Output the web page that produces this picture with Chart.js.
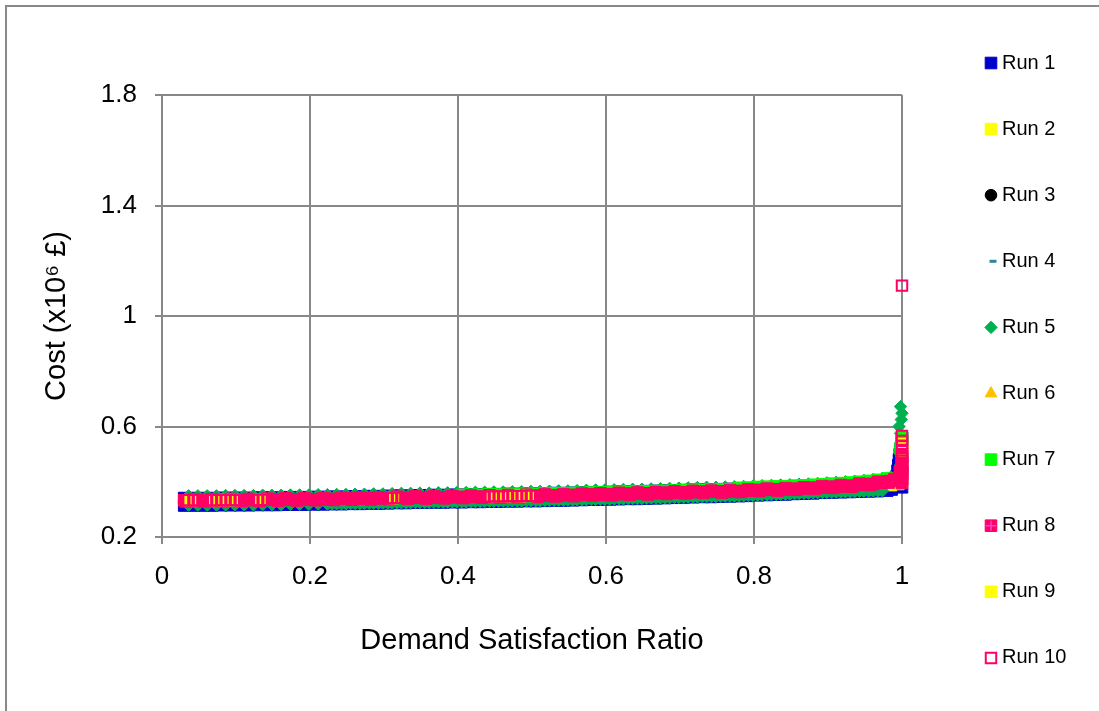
<!DOCTYPE html>
<html>
<head>
<meta charset="utf-8">
<script src="https://cdn.jsdelivr.net/npm/chart.js@4.4.1/dist/chart.umd.min.js"></script>
<style>
html,body{margin:0;padding:0;background:#fff;}
#wrap{width:1099px;height:711px;}
</style>
</head>
<body>
<div id="wrap"><canvas id="chart" width="1099" height="711"></canvas></div>
<script>
// Axis ticks
const ratioTicks = [0, 0.2, 0.4, 0.6, 0.8, 1];
const ratioTickLabels = ['0', '0.2', '0.4', '0.6', '0.8', '1'];
const costTicks = [0.2, 0.6, 1, 1.4, 1.8];
const costTickLabels = ['0.2', '0.6', '1', '1.4', '1.8'];

const runNames = ['Run 1', 'Run 2', 'Run 3', 'Run 4', 'Run 5', 'Run 6', 'Run 7', 'Run 8', 'Run 9', 'Run 10'];

// [demand satisfaction ratio, cost (x10^6 GBP)] for each run
const run1 = [
  [0.030,0.314],[0.0425,0.314],[0.055,0.314],[0.0675,0.314],[0.080,0.315],[0.0925,0.315],[0.105,0.315],
  [0.1175,0.315],[0.130,0.316],[0.1425,0.316],[0.155,0.316],[0.1675,0.317],[0.180,0.317],[0.1925,0.317],
  [0.205,0.318],[0.2175,0.318],[0.230,0.319],[0.2425,0.319],[0.255,0.320],[0.2675,0.320],[0.280,0.321],
  [0.2925,0.321],[0.305,0.322],[0.3175,0.323],[0.330,0.323],[0.3425,0.324],[0.355,0.324],[0.3675,0.325],
  [0.380,0.325],[0.3925,0.326],[0.405,0.326],[0.4175,0.327],[0.430,0.327],[0.4425,0.328],[0.455,0.328],
  [0.4675,0.329],[0.480,0.329],[0.4925,0.330],[0.505,0.330],[0.5175,0.331],[0.530,0.332],[0.5425,0.332],
  [0.555,0.333],[0.5675,0.334],[0.580,0.335],[0.5925,0.335],[0.605,0.336],[0.6175,0.337],[0.630,0.338],
  [0.6425,0.338],[0.655,0.339],[0.6675,0.340],[0.680,0.341],[0.6925,0.342],[0.705,0.343],[0.7175,0.344],
  [0.730,0.345],[0.7425,0.345],[0.755,0.346],[0.7675,0.347],[0.780,0.348],[0.7925,0.349],[0.805,0.351],
  [0.8175,0.352],[0.830,0.353],[0.8425,0.354],[0.855,0.356],[0.8675,0.357],[0.880,0.358],[0.8925,0.360],
  [0.905,0.361],[0.9175,0.362],[0.930,0.363],[0.9425,0.364],[0.955,0.365],[0.9675,0.366],[0.980,0.368],
  [0.030,0.341],[0.0425,0.341],[0.055,0.341],[0.0675,0.341],[0.080,0.342],[0.0925,0.342],[0.105,0.342],
  [0.1175,0.342],[0.130,0.343],[0.1425,0.343],[0.155,0.343],[0.1675,0.344],[0.180,0.344],[0.1925,0.344],
  [0.205,0.345],[0.2175,0.345],[0.230,0.346],[0.2425,0.346],[0.255,0.347],[0.2675,0.347],[0.280,0.348],
  [0.2925,0.348],[0.305,0.349],[0.3175,0.350],[0.330,0.350],[0.3425,0.351],[0.355,0.351],[0.3675,0.352],
  [0.380,0.352],[0.3925,0.353],[0.405,0.353],[0.4175,0.354],[0.430,0.354],[0.4425,0.355],[0.455,0.355],
  [0.4675,0.356],[0.480,0.356],[0.4925,0.357],[0.505,0.357],[0.5175,0.358],[0.530,0.359],[0.5425,0.359],
  [0.555,0.360],[0.5675,0.361],[0.580,0.362],[0.5925,0.362],[0.605,0.363],[0.6175,0.364],[0.630,0.365],
  [0.6425,0.365],[0.655,0.366],[0.6675,0.367],[0.680,0.368],[0.6925,0.369],[0.705,0.370],[0.7175,0.371],
  [0.730,0.372],[0.7425,0.372],[0.755,0.373],[0.7675,0.374],[0.780,0.375],[0.7925,0.376],[0.805,0.378],
  [0.8175,0.379],[0.830,0.380],[0.8425,0.381],[0.855,0.383],[0.8675,0.384],[0.880,0.386],[0.8925,0.388],
  [0.905,0.390],[0.9175,0.392],[0.930,0.394],[0.9425,0.397],[0.955,0.400],[0.9675,0.404],[0.980,0.409],
  [0.986,0.372],[0.990,0.385],[0.992,0.400],[0.993,0.420],[0.994,0.440],[0.995,0.460],[0.996,0.480],
  [0.997,0.500],[0.998,0.520],[1.000,0.540],[1.000,0.558],[1.000,0.380],[1.000,0.430],[1.000,0.490]
];
const run2 = [
  [0.5925,0.344],[0.6175,0.346],[0.6425,0.347],[0.6675,0.349],[0.6925,0.351],[0.7175,0.353],[0.7425,0.354],
  [0.7675,0.356],[0.7925,0.358],[0.8175,0.361],[0.8425,0.363],[0.8675,0.366],[0.8925,0.370],[0.9175,0.374],
  [0.9425,0.378],[0.9675,0.384],[0.985,0.388],[0.995,0.392],[1.000,0.400]
];
const run3 = [
  [0.10,0.334],[0.15,0.335],[0.20,0.337],[0.25,0.339],[0.30,0.341],[0.35,0.343],[0.40,0.345],[0.45,0.347],
  [0.50,0.349],[0.55,0.352],[0.60,0.355],[0.65,0.358],[0.70,0.361],[0.75,0.365],[0.80,0.369],[0.85,0.374],
  [0.90,0.381],[0.95,0.391],[1.00,0.450]
];
const run4 = [
  [0.12,0.336],[0.22,0.339],[0.32,0.344],[0.42,0.348],[0.52,0.352],[0.62,0.358],[0.72,0.365],[0.82,0.373],
  [0.92,0.386],[1.00,0.440]
];
const run5 = [
  [0.036,0.349],[0.0485,0.349],[0.061,0.349],[0.0735,0.349],[0.086,0.350],[0.0985,0.350],[0.111,0.350],
  [0.1235,0.350],[0.136,0.351],[0.1485,0.351],[0.161,0.351],[0.1735,0.352],[0.186,0.352],[0.1985,0.352],
  [0.211,0.353],[0.2235,0.353],[0.236,0.354],[0.2485,0.354],[0.261,0.355],[0.2735,0.355],[0.286,0.356],
  [0.2985,0.356],[0.311,0.357],[0.3235,0.358],[0.336,0.358],[0.3485,0.359],[0.361,0.359],[0.3735,0.360],
  [0.386,0.360],[0.3985,0.361],[0.411,0.361],[0.4235,0.362],[0.436,0.362],[0.4485,0.363],[0.461,0.363],
  [0.4735,0.364],[0.486,0.364],[0.4985,0.365],[0.511,0.365],[0.5235,0.366],[0.536,0.367],[0.5485,0.367],
  [0.561,0.368],[0.5735,0.369],[0.586,0.370],[0.5985,0.370],[0.611,0.371],[0.6235,0.372],[0.636,0.373],
  [0.6485,0.373],[0.661,0.374],[0.6735,0.375],[0.686,0.376],[0.6985,0.377],[0.711,0.378],[0.7235,0.379],
  [0.736,0.380],[0.7485,0.380],[0.761,0.381],[0.7735,0.382],[0.786,0.383],[0.7985,0.384],[0.811,0.386],
  [0.8235,0.387],[0.836,0.388],[0.8485,0.389],[0.861,0.391],[0.8735,0.392],[0.886,0.394],[0.8985,0.396],
  [0.911,0.398],[0.9235,0.400],[0.936,0.402],[0.9485,0.405],[0.961,0.408],[0.9735,0.412],[0.985,0.417],
  [0.036,0.315],[0.0485,0.315],[0.061,0.315],[0.0735,0.315],[0.086,0.316],[0.0985,0.316],[0.111,0.316],
  [0.1235,0.316],[0.136,0.317],[0.1485,0.317],[0.161,0.317],[0.1735,0.318],[0.186,0.318],[0.1985,0.318],
  [0.211,0.319],[0.2235,0.319],[0.236,0.320],[0.2485,0.320],[0.261,0.321],[0.2735,0.321],[0.286,0.322],
  [0.2985,0.322],[0.311,0.323],[0.3235,0.324],[0.336,0.324],[0.3485,0.325],[0.361,0.325],[0.3735,0.326],
  [0.386,0.326],[0.3985,0.327],[0.411,0.327],[0.4235,0.328],[0.436,0.328],[0.4485,0.329],[0.461,0.329],
  [0.4735,0.330],[0.486,0.330],[0.4985,0.331],[0.511,0.331],[0.5235,0.332],[0.536,0.333],[0.5485,0.333],
  [0.561,0.334],[0.5735,0.335],[0.586,0.336],[0.5985,0.336],[0.611,0.337],[0.6235,0.338],[0.636,0.339],
  [0.6485,0.339],[0.661,0.340],[0.6735,0.341],[0.686,0.342],[0.6985,0.343],[0.711,0.344],[0.7235,0.345],
  [0.736,0.346],[0.7485,0.346],[0.761,0.347],[0.7735,0.348],[0.786,0.349],[0.7985,0.350],[0.811,0.352],
  [0.8235,0.353],[0.836,0.354],[0.8485,0.355],[0.861,0.357],[0.8735,0.358],[0.886,0.360],[0.8985,0.361],
  [0.911,0.362],[0.9235,0.363],[0.936,0.364],[0.9485,0.365],[0.961,0.366],[0.9735,0.367],
  [0.230,0.320],[0.2425,0.320],[0.255,0.321],[0.2675,0.321],[0.280,0.322],[0.2925,0.322],[0.305,0.323],
  [0.3175,0.324],[0.330,0.324],[0.3425,0.325],[0.355,0.325],[0.3675,0.326],[0.380,0.326],[0.3925,0.327],
  [0.405,0.327],[0.4175,0.328],[0.430,0.328],[0.4425,0.329],[0.455,0.329],[0.4675,0.330],[0.480,0.330],
  [0.4925,0.331],[0.505,0.331],[0.5175,0.332],[0.530,0.333],[0.5425,0.333],[0.555,0.334],[0.5675,0.335],
  [0.580,0.336],[0.5925,0.336],[0.605,0.337],[0.6175,0.338],[0.630,0.339],[0.6425,0.339],[0.655,0.340],
  [0.6675,0.341],[0.680,0.342],[0.6925,0.343],[0.705,0.344],[0.7175,0.345],[0.730,0.346],[0.7425,0.346],
  [0.755,0.347],[0.7675,0.348],[0.780,0.349],[0.7925,0.350],[0.805,0.352],[0.8175,0.353],[0.830,0.354],
  [0.8425,0.355],[0.855,0.357],[0.8675,0.358],[0.880,0.360],[0.8925,0.361],[0.905,0.362],[0.9175,0.363],
  [0.930,0.364],[0.9425,0.365],[0.955,0.366],[0.9675,0.367],
  [0.995,0.400],[0.997,0.430],[0.998,0.460],[1.000,0.490],[1.000,0.520],[1.000,0.550],[0.998,0.575],
  [0.996,0.600],[0.999,0.625],[1.000,0.648],[0.998,0.672]
];
const run6 = [
  [0.15,0.329],[0.30,0.335],[0.45,0.341],[0.60,0.349],[0.75,0.359],[0.90,0.375],[1.00,0.430],[1.00,0.470],
  [1.00,0.490]
];
const run7 = [
  [0.405,0.352],[0.4175,0.353],[0.430,0.353],[0.4425,0.354],[0.455,0.354],[0.4675,0.355],[0.480,0.355],
  [0.4925,0.356],[0.505,0.356],[0.5175,0.357],[0.530,0.358],[0.5425,0.358],[0.555,0.359],[0.5675,0.360],
  [0.580,0.361],[0.5925,0.361],[0.605,0.362],[0.6175,0.363],[0.630,0.364],[0.6425,0.364],[0.655,0.365],
  [0.6675,0.366],[0.680,0.367],[0.6925,0.368],[0.705,0.369],[0.7175,0.370],[0.730,0.371],[0.7425,0.371],
  [0.755,0.372],[0.7675,0.373],[0.780,0.378],[0.7925,0.379],[0.805,0.381],[0.8175,0.382],[0.830,0.383],
  [0.8425,0.384],[0.855,0.386],[0.8675,0.387],[0.880,0.389],[0.8925,0.391],[0.905,0.393],[0.9175,0.395],
  [0.930,0.397],[0.9425,0.400],[0.955,0.403],[0.9675,0.407],[0.980,0.412],
  [0.998,0.520],[1.000,0.545],[1.000,0.560]
];
const run8 = [
  [0.032,0.329],[0.057,0.329],[0.082,0.330],[0.107,0.330],[0.132,0.331],[0.157,0.331],[0.182,0.332],
  [0.207,0.333],[0.232,0.334],[0.257,0.335],[0.282,0.336],[0.307,0.337],[0.332,0.338],[0.357,0.339],
  [0.382,0.340],[0.407,0.341],[0.432,0.342],[0.457,0.343],[0.482,0.344],[0.507,0.345],[0.532,0.347],
  [0.557,0.348],[0.582,0.350],[0.607,0.351],[0.632,0.353],[0.657,0.354],[0.682,0.356],[0.707,0.358],
  [0.732,0.360],[0.757,0.361],[0.782,0.363],[0.807,0.366],[0.832,0.368],[0.857,0.371],[0.882,0.374],
  [0.907,0.378],[0.932,0.382],[0.957,0.388],[0.982,0.397],
  [0.0425,0.337],[0.0675,0.337],[0.0925,0.338],[0.1175,0.338],[0.1425,0.339],[0.1675,0.340],[0.1925,0.340],
  [0.2175,0.341],[0.2425,0.342],[0.2675,0.343],[0.2925,0.344],[0.3175,0.346],[0.3425,0.347],[0.3675,0.348],
  [0.3925,0.349],[0.4175,0.350],[0.4425,0.351],[0.4675,0.352],[0.4925,0.353],[0.5175,0.354],[0.5425,0.355],
  [0.5675,0.357],[0.5925,0.358],[0.6175,0.360],[0.6425,0.361],[0.6675,0.363],[0.6925,0.365],[0.7175,0.367],
  [0.7425,0.368],[0.7675,0.370],[0.7925,0.372],[0.8175,0.375],[0.8425,0.377],[0.8675,0.380],[0.8925,0.384],
  [0.9175,0.388],[0.9425,0.393],[0.9675,0.400],[0.990,0.410],
  [1.000,0.395],[1.000,0.410],[1.000,0.425],[1.000,0.440],[1.000,0.455],[1.000,0.470],[1.000,0.485],
  [1.000,0.500],[0.997,0.405],[0.997,0.435]
];
const run9 = [
  [0.038,0.333],[0.072,0.333],[0.085,0.334],[0.098,0.334],[0.132,0.335],[0.312,0.341],[0.447,0.347],
  [0.463,0.347],[0.484,0.348],[0.495,0.349],[1.000,0.510],[1.000,0.535]
];
const run10 = [
  [0.030,0.333],[0.0425,0.333],[0.055,0.333],[0.0675,0.333],[0.080,0.334],[0.0925,0.334],[0.105,0.334],
  [0.1175,0.334],[0.130,0.335],[0.1425,0.335],[0.155,0.335],[0.1675,0.336],[0.180,0.336],[0.1925,0.336],
  [0.205,0.337],[0.2175,0.337],[0.230,0.338],[0.2425,0.338],[0.255,0.339],[0.2675,0.339],[0.280,0.340],
  [0.2925,0.340],[0.305,0.341],[0.3175,0.342],[0.330,0.342],[0.3425,0.343],[0.355,0.343],[0.3675,0.344],
  [0.380,0.344],[0.3925,0.345],[0.405,0.345],[0.4175,0.346],[0.430,0.346],[0.4425,0.347],[0.455,0.347],
  [0.4675,0.348],[0.480,0.348],[0.4925,0.349],[0.505,0.349],[0.5175,0.350],[0.530,0.351],[0.5425,0.351],
  [0.555,0.352],[0.5675,0.353],[0.580,0.354],[0.5925,0.354],[0.605,0.355],[0.6175,0.356],[0.630,0.357],
  [0.6425,0.357],[0.655,0.358],[0.6675,0.359],[0.680,0.360],[0.6925,0.361],[0.705,0.362],[0.7175,0.363],
  [0.730,0.364],[0.7425,0.364],[0.755,0.365],[0.7675,0.366],[0.780,0.367],[0.7925,0.368],[0.805,0.370],
  [0.8175,0.371],[0.830,0.372],[0.8425,0.373],[0.855,0.375],[0.8675,0.376],[0.880,0.378],[0.8925,0.380],
  [0.905,0.382],[0.9175,0.384],[0.930,0.386],[0.9425,0.389],[0.955,0.392],[0.9675,0.396],[0.980,0.401],
  [0.990,0.406],
  [0.036,0.333],[0.0485,0.333],[0.061,0.333],[0.0735,0.333],[0.086,0.334],[0.0985,0.334],[0.111,0.334],
  [0.1235,0.334],[0.136,0.335],[0.1485,0.335],[0.161,0.335],[0.1735,0.336],[0.186,0.336],[0.1985,0.336],
  [0.211,0.337],[0.2235,0.337],[0.236,0.338],[0.2485,0.338],[0.261,0.339],[0.2735,0.339],[0.286,0.340],
  [0.2985,0.340],[0.311,0.341],[0.3235,0.342],[0.336,0.342],[0.3485,0.343],[0.361,0.343],[0.3735,0.344],
  [0.386,0.344],[0.3985,0.345],[0.411,0.345],[0.4235,0.346],[0.436,0.346],[0.4485,0.347],[0.461,0.347],
  [0.4735,0.348],[0.486,0.348],[0.4985,0.349],[0.511,0.349],[0.5235,0.350],[0.536,0.351],[0.5485,0.351],
  [0.561,0.352],[0.5735,0.353],[0.586,0.354],[0.5985,0.354],[0.611,0.355],[0.6235,0.356],[0.636,0.357],
  [0.6485,0.357],[0.661,0.358],[0.6735,0.359],[0.686,0.360],[0.6985,0.361],[0.711,0.362],[0.7235,0.363],
  [0.736,0.364],[0.7485,0.364],[0.761,0.365],[0.7735,0.366],[0.786,0.367],[0.7985,0.368],[0.811,0.370],
  [0.8235,0.371],[0.836,0.372],[0.8485,0.373],[0.861,0.375],[0.8735,0.376],[0.886,0.378],[0.8985,0.380],
  [0.911,0.382],[0.9235,0.384],[0.936,0.386],[0.9485,0.389],[0.961,0.392],[0.9735,0.396],[0.985,0.403],
  [1.000,0.410],[1.000,0.425],[1.000,0.440],[1.000,0.455],[1.000,0.470],[1.000,0.485],[1.000,0.500],
  [1.000,0.515],[1.000,0.530],[1.000,0.548],[1.000,0.566],[1.000,1.110]
];
const runs = [run1, run2, run3, run4, run5, run6, run7, run8, run9, run10];

// Marker appearance per run
const markers = [
  {pointStyle: 'rect',     pointRadius: 8.2, pointBackgroundColor: '#0000CC', pointBorderColor: '#0000CC', pointBorderWidth: 1},
  {pointStyle: 'rect',     pointRadius: 8.2, pointBackgroundColor: '#FFFF00', pointBorderColor: '#FFFF00', pointBorderWidth: 1},
  {pointStyle: 'circle',   pointRadius: 5.8, pointBackgroundColor: '#000000', pointBorderColor: '#000000', pointBorderWidth: 1},
  {pointStyle: 'line',     pointRadius: 3.5, pointBackgroundColor: '#31849B', pointBorderColor: '#31849B', pointBorderWidth: 3},
  {pointStyle: 'rectRot',  pointRadius: 6.2, pointBackgroundColor: '#00B050', pointBorderColor: '#00B050', pointBorderWidth: 1},
  {pointStyle: 'triangle', pointRadius: 6.8, pointBackgroundColor: '#FFC000', pointBorderColor: '#FFC000', pointBorderWidth: 1},
  {pointStyle: 'rect',     pointRadius: 8.2, pointBackgroundColor: '#00FF00', pointBorderColor: '#00FF00', pointBorderWidth: 1},
  {pointStyle: 'rect',     pointRadius: 8.2, pointBackgroundColor: '#FF0066', pointBorderColor: '#FF0066', pointBorderWidth: 1},
  {pointStyle: 'rect',     pointRadius: 8.2, pointBackgroundColor: '#FFFF00', pointBorderColor: '#FFFF00', pointBorderWidth: 1},
  {pointStyle: 'rect',     pointRadius: 7.4, pointBackgroundColor: 'rgba(255,255,255,0)', pointBorderColor: '#FF0066', pointBorderWidth: 2}
];

const FONT = "'Liberation Sans', Arial, Helvetica, sans-serif";
const GRID = '#888888';
Chart.defaults.font.family = FONT;
Chart.defaults.color = '#000';

// Later runs are painted over earlier ones
const datasets = runs.map((pts, i) => Object.assign({
  label: runNames[i],
  data: pts,
  showLine: false,
  clip: false,
  order: runs.length - 1 - i,
  pointHoverRadius: markers[i].pointRadius
}, markers[i]));

// White page with the grey chart frame
const framePlugin = {
  id: 'frame',
  beforeDraw(chart) {
    const ctx = chart.ctx;
    ctx.save();
    ctx.fillStyle = '#fff';
    ctx.fillRect(0, 0, chart.width, chart.height);
    ctx.strokeStyle = '#898989';
    ctx.lineWidth = 2;
    ctx.strokeRect(6, 6, chart.width + 100, chart.height + 100);
    ctx.restore();
  }
};

// Vertical legend down the right-hand side
const sideLegend = {
  id: 'sideLegend',
  afterDraw(chart) {
    const ctx = chart.ctx;
    const top = 63, step = 66.1, markX = 991, textX = 1002;
    chart.data.datasets.forEach((ds, i) => {
      const y = top + i * step;
      const m = markers[i];
      const mx = m.pointStyle === 'line' ? markX + 2 : markX;
      ctx.save();
      ctx.fillStyle = m.pointBackgroundColor;
      ctx.strokeStyle = m.pointBorderColor;
      ctx.lineWidth = m.pointBorderWidth;
      Chart.helpers.drawPoint(ctx, {
        pointStyle: m.pointStyle, radius: m.pointRadius, borderWidth: m.pointBorderWidth, rotation: 0
      }, mx, y);
      if (i === 7) {
        // Run 8 marker carries a light cross
        ctx.beginPath();
        ctx.strokeStyle = '#FF40D0';
        ctx.lineWidth = 1.5;
        ctx.moveTo(mx - 5, y); ctx.lineTo(mx + 5, y);
        ctx.moveTo(mx, y - 5); ctx.lineTo(mx, y + 5);
        ctx.stroke();
      }
      ctx.fillStyle = '#000';
      ctx.font = '20px ' + FONT;
      ctx.textAlign = 'left';
      ctx.textBaseline = 'middle';
      ctx.fillText(ds.label, textX, y);
      ctx.restore();
    });
  }
};

new Chart(document.getElementById('chart'), {
  type: 'scatter',
  data: {datasets},
  plugins: [framePlugin, sideLegend],
  options: {
    responsive: false,
    animation: false,
    events: [],
    layout: {padding: {left: 6, top: 95, right: 197, bottom: 53}},
    plugins: {legend: {display: false}, tooltip: {enabled: false}},
    scales: {
      x: {
        type: 'linear',
        min: 0, max: 1,
        afterBuildTicks: s => { s.ticks = ratioTicks.map(v => ({value: v})); },
        afterFit: s => { s.height = 121; },
        ticks: {
          font: {size: 26}, color: '#000', padding: 17, maxRotation: 0,
          callback: (v, idx) => ratioTickLabels[idx]
        },
        grid: {color: GRID, lineWidth: 2, tickLength: 7, drawTicks: true},
        border: {color: GRID, width: 2},
        title: {display: true, text: 'Demand Satisfaction Ratio', font: {size: 29}, color: '#000', padding: {top: 0, bottom: 0}}
      },
      y: {
        type: 'linear',
        min: 0.2, max: 1.8,
        afterBuildTicks: s => { s.ticks = costTicks.map(v => ({value: v})); },
        afterFit: s => { s.width = 156; },
        ticks: {
          font: {size: 26}, color: '#000', padding: 18,
          callback: (v, idx) => costTickLabels[idx]
        },
        grid: {color: GRID, lineWidth: 2, tickLength: 7, drawTicks: true},
        border: {color: GRID, width: 2},
        title: {display: true, text: 'Cost (x10\u2076 \u00A3)', font: {size: 29}, color: '#000', padding: {top: 34, bottom: 0}}
      }
    }
  }
});
</script>
</body>
</html>
